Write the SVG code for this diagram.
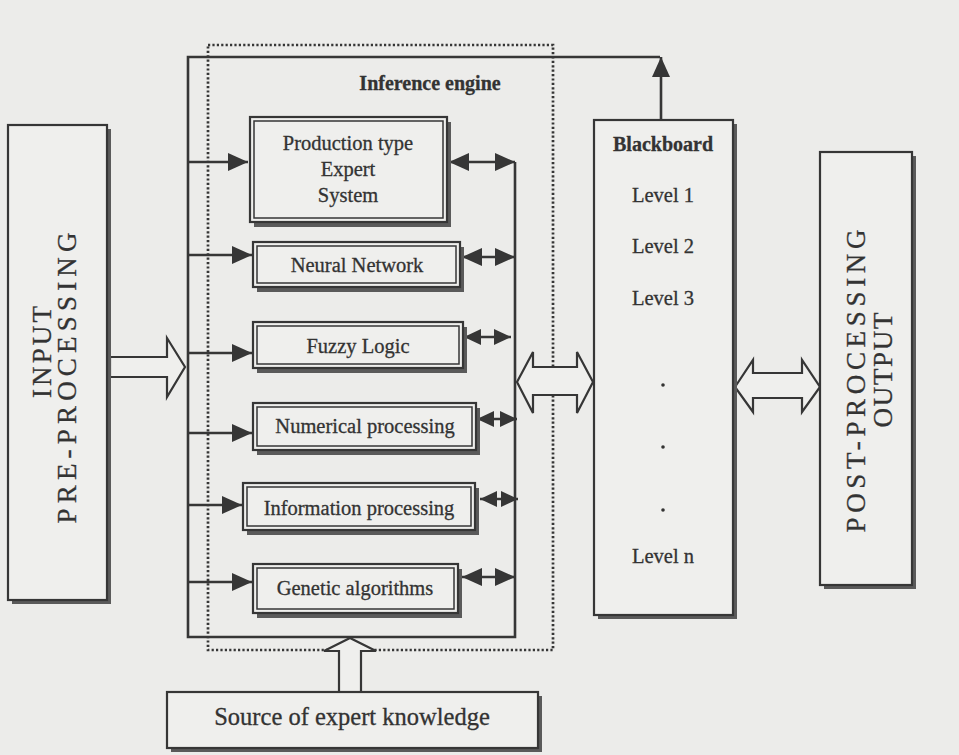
<svg xmlns="http://www.w3.org/2000/svg" width="959" height="755" viewBox="0 0 959 755">
<defs>
<style>
.bg{fill:#ececea}
.ln{stroke:#363636;stroke-width:2.6;fill:none}
.dot{stroke:#363636;stroke-width:2.7;fill:none;stroke-dasharray:2.2 2.2}
.box{fill:#efefed;stroke:#363636;stroke-width:2.2}
.inner{fill:none;stroke:#363636;stroke-width:1.5}
.sh{fill:#5a5a5a}
.hol{fill:#efefed;stroke:#363636;stroke-width:2.2;stroke-linejoin:miter}
.t{font-family:"Liberation Serif","Times New Roman",serif;fill:#333;stroke:#333;stroke-width:0.3;font-size:20.5px;text-anchor:middle}
.b{font-weight:bold;font-size:20px}
.v{font-size:27px}
.src{font-size:24.5px}
</style>
<marker id="ah" viewBox="0 0 20 18" refX="20" refY="9" markerWidth="20" markerHeight="18" markerUnits="userSpaceOnUse" orient="auto-start-reverse">
<path d="M0,0 L20,9 L0,18 Z" fill="#363636"/>
</marker>
<marker id="as" viewBox="0 0 17 16" refX="17" refY="8" markerWidth="17" markerHeight="16" markerUnits="userSpaceOnUse" orient="auto-start-reverse">
<path d="M0,0 L17,8 L0,16 Z" fill="#363636"/>
</marker>
</defs>
<rect class="bg" x="0" y="0" width="959" height="755"/>

<g id="inference-engine">
<rect class="dot" x="208" y="45" width="345" height="605"/>
<text class="t b" x="430" y="90">Inference engine</text>
</g>

<g id="connectors">
<polyline class="ln" points="660,57 188,57 188,637 515,637 515,162"/>
<line class="ln" x1="188" y1="162" x2="248" y2="162" marker-end="url(#ah)"/>
<line class="ln" x1="188" y1="255" x2="252" y2="255" marker-end="url(#ah)"/>
<line class="ln" x1="188" y1="353" x2="252" y2="353" marker-end="url(#ah)"/>
<line class="ln" x1="188" y1="433" x2="252" y2="433" marker-end="url(#ah)"/>
<line class="ln" x1="188" y1="505" x2="242" y2="505" marker-end="url(#ah)"/>
<line class="ln" x1="188" y1="582" x2="252" y2="582" marker-end="url(#ah)"/>
<line class="ln" x1="449" y1="162" x2="515" y2="162" marker-start="url(#ah)" marker-end="url(#ah)"/>
<line class="ln" x1="462" y1="257" x2="515" y2="257" marker-start="url(#ah)" marker-end="url(#ah)"/>
<line class="ln" x1="464" y1="337" x2="511" y2="337" marker-start="url(#as)" marker-end="url(#as)"/>
<line class="ln" x1="477" y1="419" x2="517" y2="419" marker-start="url(#as)" marker-end="url(#as)"/>
<line class="ln" x1="480" y1="499" x2="518" y2="499" marker-start="url(#as)" marker-end="url(#as)"/>
<line class="ln" x1="462" y1="577" x2="515" y2="577" marker-start="url(#ah)" marker-end="url(#ah)"/>
<line class="ln" x1="661" y1="120" x2="661" y2="57" marker-end="url(#ah)"/>
<polygon class="hol" points="110,357 167,357 167,338 185,367 167,397 167,377 110,377"/>
<polygon class="hol" points="517,382 533,352 533,367 577,367 577,352 593,382 577,413 577,395 533,395 533,413"/>
<polygon class="hol" points="735,387 753,360 753,373 802,373 802,360 820,387 802,412 802,398 753,398 753,412"/>
<polygon class="hol" points="339,692 339,651 324,651 350,638 376,651 361,651 361,692"/>
</g>

<g id="input">
<rect class="sh" x="12" y="129" width="99" height="475"/>
<rect class="box" x="8" y="125" width="99" height="475"/>
<text class="t v" transform="translate(51,352) rotate(-90)" textLength="92" lengthAdjust="spacing">INPUT</text>
<text class="t v" transform="translate(76,378) rotate(-90)" textLength="291" lengthAdjust="spacing">PRE-PROCESSING</text>
</g>

<g id="production">
<rect class="sh" x="254" y="122" width="197" height="105"/>
<rect class="box" x="250" y="117" width="197" height="105"/>
<rect class="inner" x="254" y="121" width="189" height="97"/>
<text class="t" x="348" y="150">Production type</text>
<text class="t" x="348" y="176">Expert</text>
<text class="t" x="348" y="202">System</text>
</g>

<g id="neural">
<rect class="sh" x="257" y="247" width="207" height="45"/>
<rect class="box" x="253" y="242" width="207" height="45"/>
<rect class="inner" x="257" y="246" width="199" height="37"/>
<text class="t" x="357" y="272">Neural Network</text>
</g>

<g id="fuzzy">
<rect class="sh" x="257" y="327" width="210" height="46"/>
<rect class="box" x="253" y="322" width="210" height="46"/>
<rect class="inner" x="257" y="326" width="202" height="38"/>
<text class="t" x="358" y="353">Fuzzy Logic</text>
</g>

<g id="numerical">
<rect class="sh" x="257" y="408" width="223" height="47"/>
<rect class="box" x="253" y="403" width="223" height="47"/>
<rect class="inner" x="257" y="407" width="215" height="39"/>
<text class="t" x="365" y="433">Numerical processing</text>
</g>

<g id="information">
<rect class="sh" x="247" y="488" width="232" height="47"/>
<rect class="box" x="243" y="483" width="232" height="47"/>
<rect class="inner" x="247" y="487" width="224" height="39"/>
<text class="t" x="359" y="515">Information processing</text>
</g>

<g id="genetic">
<rect class="sh" x="257" y="569" width="205" height="49"/>
<rect class="box" x="253" y="564" width="205" height="49"/>
<rect class="inner" x="257" y="568" width="197" height="41"/>
<text class="t" x="355" y="595">Genetic algorithms</text>
</g>

<g id="blackboard">
<rect class="sh" x="598" y="124" width="139" height="495"/>
<rect class="box" x="594" y="120" width="139" height="495"/>
<text class="t b" x="663" y="151">Blackboard</text>
<text class="t" x="663" y="202">Level 1</text>
<text class="t" x="663" y="253">Level 2</text>
<text class="t" x="663" y="305">Level 3</text>
<circle cx="663" cy="385" r="1.8" fill="#333"/>
<circle cx="663" cy="447" r="1.8" fill="#333"/>
<circle cx="663" cy="510" r="1.8" fill="#333"/>
<text class="t" x="663" y="563">Level n</text>
</g>

<g id="output">
<rect class="sh" x="824" y="156" width="92" height="433"/>
<rect class="box" x="820" y="152" width="92" height="433"/>
<text class="t v" transform="translate(865,381) rotate(-90)" textLength="303" lengthAdjust="spacing">POST-PROCESSING</text>
<text class="t v" transform="translate(892,370) rotate(-90)" textLength="115" lengthAdjust="spacing">OUTPUT</text>
</g>

<g id="source">
<rect class="sh" x="171" y="696" width="371" height="56"/>
<rect class="box" x="167" y="692" width="371" height="56"/>
<text class="t src" x="352" y="725">Source of expert knowledge</text>
</g>
</svg>
